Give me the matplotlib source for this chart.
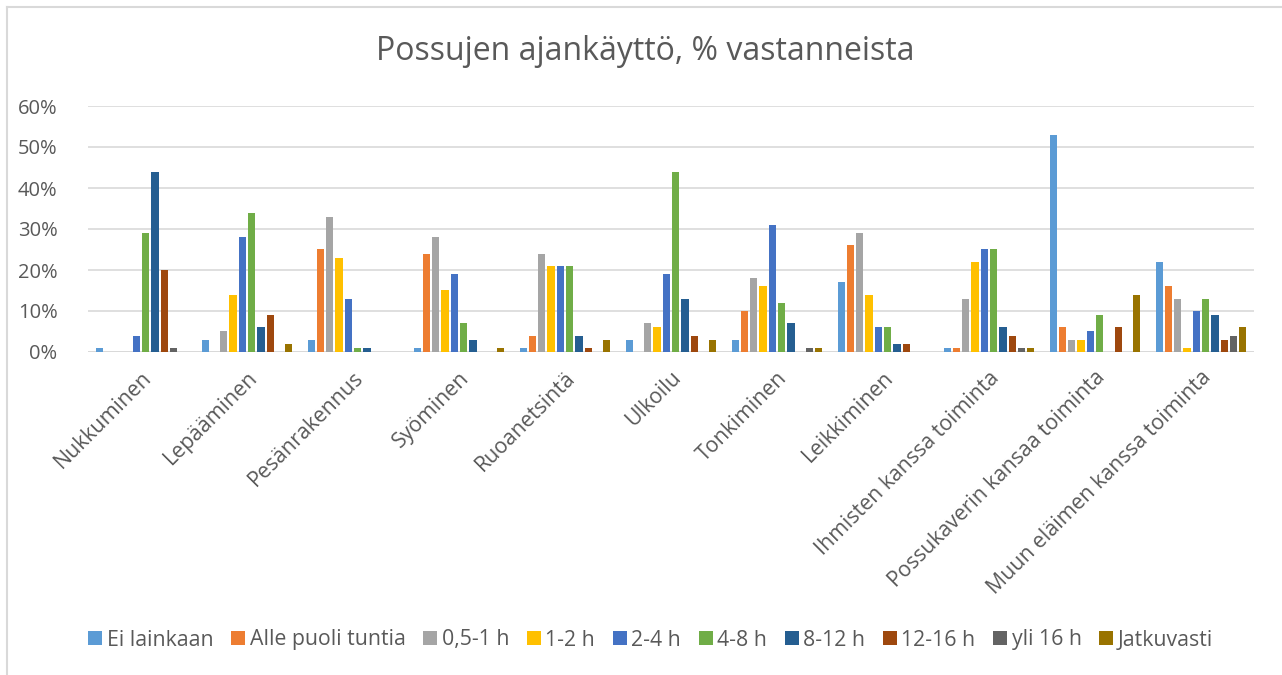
import matplotlib

matplotlib.use("Agg")
import matplotlib.pyplot as plt
from matplotlib.lines import Line2D
from matplotlib.ticker import FuncFormatter

plt.rcParams["font.family"] = ["Open Sans", "DejaVu Sans"]

categories = [
    "Nukkuminen",
    "Lepääminen",
    "Pesänrakennus",
    "Syöminen",
    "Ruoanetsintä",
    "Ulkoilu",
    "Tonkiminen",
    "Leikkiminen",
    "Ihmisten kanssa toiminta",
    "Possukaverin kansaa toiminta",
    "Muun eläimen kanssa toiminta",
]

series_names = [
    "Ei lainkaan",
    "Alle puoli tuntia",
    "0,5-1 h",
    "1-2 h",
    "2-4 h",
    "4-8 h",
    "8-12 h",
    "12-16 h",
    "yli 16 h",
    "Jatkuvasti",
]

# percent of respondents, one list per series, in category order
ei_lainkaan = [1, 3, 3, 1, 1, 3, 3, 17, 1, 53, 22]
alle_puoli = [0, 0, 25, 24, 4, 0, 10, 26, 1, 6, 16]
h_05_1 = [0, 5, 33, 28, 24, 7, 18, 29, 13, 3, 13]
h_1_2 = [0, 14, 23, 15, 21, 6, 16, 14, 22, 3, 1]
h_2_4 = [4, 28, 13, 19, 21, 19, 31, 6, 25, 5, 10]
h_4_8 = [29, 34, 1, 7, 21, 44, 12, 6, 25, 9, 13]
h_8_12 = [44, 6, 1, 3, 4, 13, 7, 2, 6, 0, 9]
h_12_16 = [20, 9, 0, 0, 1, 4, 0, 2, 4, 6, 3]
yli_16 = [1, 0, 0, 0, 0, 0, 1, 0, 1, 0, 4]
jatkuvasti = [0, 2, 0, 1, 3, 3, 1, 0, 1, 14, 6]

series_values = [ei_lainkaan, alle_puoli, h_05_1, h_1_2, h_2_4,
                 h_4_8, h_8_12, h_12_16, yli_16, jatkuvasti]

colors = ["#5B9BD5", "#ED7D31", "#A5A5A5", "#FFC000", "#4472C4",
          "#70AD47", "#255E91", "#9E480E", "#636363", "#997300"]

text_color = "#595959"
grid_color = "#D9D9D9"

fig = plt.figure(figsize=(12.82, 6.75), dpi=100)
ax = fig.add_axes([88 / 1282, 1 - 352 / 675, (1254 - 88) / 1282, (352 - 106) / 675])

step = 0.0877
bar_w = 0.068
n = len(series_names)
x = list(range(len(categories)))
for i, (name, vals, color) in enumerate(zip(series_names, series_values, colors)):
    offs = (i - (n - 1) / 2) * step
    ax.bar([xi + offs for xi in x], vals, width=bar_w, color=color, linewidth=0, zorder=3)

ax.set_xlim(-0.5, len(categories) - 0.5)
ax.set_ylim(0, 60)
ax.set_yticks(range(0, 61, 10))
ax.yaxis.set_major_formatter(FuncFormatter(lambda v, _: f"{v:.0f}%"))
ax.grid(axis="y", color=grid_color, linewidth=1.2, zorder=0)
for spine in ax.spines.values():
    spine.set_visible(False)
ax.axhline(0, color=grid_color, linewidth=1.4, zorder=2)
ax.tick_params(axis="y", length=0, pad=22, labelsize=14.5, labelcolor=text_color)
ax.tick_params(axis="x", length=0, pad=11, labelsize=15.3, labelcolor=text_color)
ax.set_xticks(x)
ax.set_xticklabels(categories, rotation=45, ha="right", rotation_mode="anchor")

fig.text(0.503, 1 - 52 / 675, "Possujen ajankäyttö, % vastanneista",
         ha="center", va="center", fontsize=23, color=text_color)

handles = [Line2D([], [], marker="s", linestyle="none", markersize=10,
                  markerfacecolor=c, markeredgewidth=0) for c in colors]
fig.legend(handles, series_names, loc="center", bbox_to_anchor=(651 / 1282, 1 - 640 / 675),
           ncol=n, frameon=False, fontsize=15.3, labelcolor=text_color,
           handlelength=0.6, handletextpad=0.25, columnspacing=0.85, borderpad=0)

# chart frame (only top and left edges fall inside the image)
fig.add_artist(Line2D([7 / 1282, 7 / 1282], [0, 1 - 7 / 675], transform=fig.transFigure,
                      color=grid_color, linewidth=1.5))
fig.add_artist(Line2D([7 / 1282, 1], [1 - 7 / 675, 1 - 7 / 675], transform=fig.transFigure,
                      color=grid_color, linewidth=1.5))

fig.savefig("out.png", dpi=100, facecolor="white")
